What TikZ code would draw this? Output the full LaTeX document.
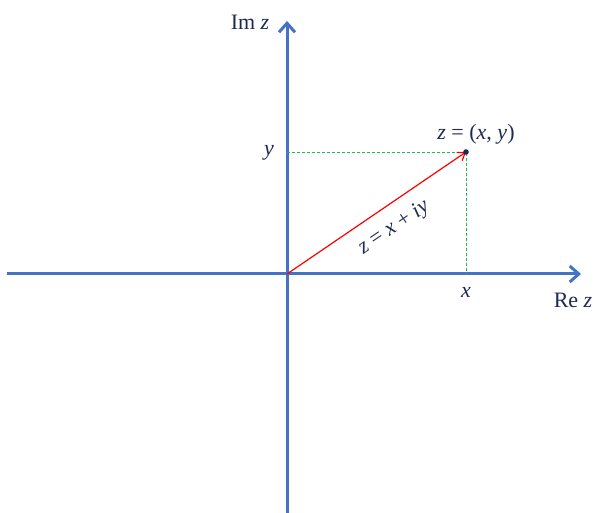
\documentclass[tikz,border=0pt]{standalone}
\usepackage{fontspec}
\setmainfont{Liberation Serif}
\usetikzlibrary{arrows.meta}
\definecolor{axisblue}{RGB}{68,114,196}
\definecolor{txt}{RGB}{31,42,80}
\definecolor{dashgreen}{RGB}{40,180,80}
\begin{document}
\begin{tikzpicture}[x=1pt,y=-1pt,
  axis/.style={axisblue,line width=3pt,-{Straight Barb[length=9pt,width=16pt,line width=3pt]}},
  guide/.style={dashgreen,line width=0.8pt,dash pattern=on 3pt off 2pt},
  lbl/.style={text=txt,font=\fontsize{22}{24}\selectfont,inner sep=0pt}]
\useasboundingbox (0,0) rectangle (595,513);
\coordinate (O) at (287,274);
\coordinate (xl) at (7,274);
\coordinate (xr) at (581,274);
\coordinate (yb) at (287,513);
\coordinate (yt) at (287,21);
\coordinate (P) at (466,152);
\coordinate (Py) at (287,152);
\coordinate (Px) at (466,274);
\draw[axis] (xl) -- (xr);
\draw[axis] (yb) -- (yt);
\draw[guide] (Py) -- (P) -- (Px);
\draw[red,line width=1.2pt,-{Straight Barb[length=7pt,width=10pt,line width=1.2pt]}] (O) -- (P);
\fill[txt] (P) circle (2.8pt);
\node[lbl] (imz) at (250,22) {Im \textit{z}};
\node[lbl] (rez) at (573,300) {Re \textit{z}};
\node[lbl] (ylab) at (269,153) {\textit{y}};
\node[lbl] (xlab) at (466,292) {\textit{x}};
\node[lbl] (zp) at (476,134) {\textit{z} = (\textit{x}, \textit{y})};
\node[lbl,rotate=34.3] (zeq) at (394,228) {\textit{z} = \textit{x} + \textit{iy}};
\end{tikzpicture}
\end{document}
